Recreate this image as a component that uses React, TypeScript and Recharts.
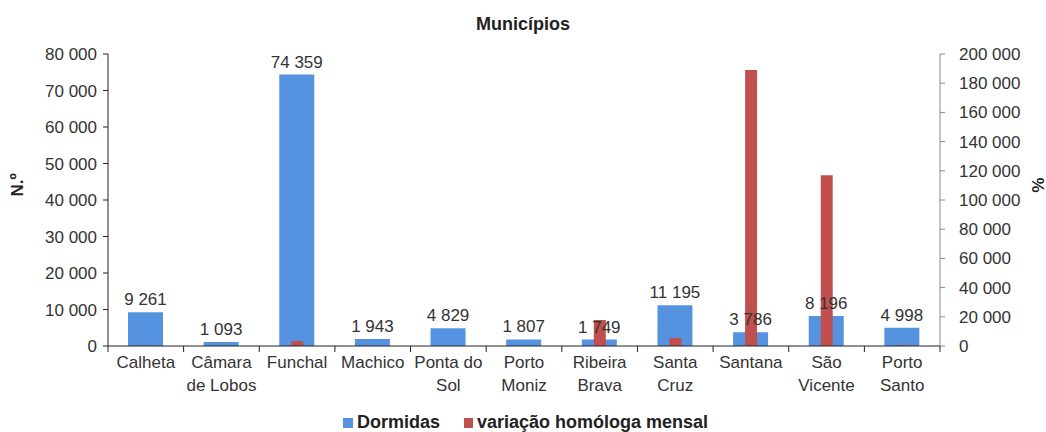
import { Bar, ComposedChart, LabelList, XAxis, YAxis } from "recharts";

const municipios = [
  "Calheta",
  "Câmara\nde Lobos",
  "Funchal",
  "Machico",
  "Ponta do\nSol",
  "Porto\nMoniz",
  "Ribeira\nBrava",
  "Santa\nCruz",
  "Santana",
  "São\nVicente",
  "Porto\nSanto"
];
const dormidas = [9261, 1093, 74359, 1943, 4829, 1807, 1749, 11195, 3786, 8196, 4998];
const variacao = [300, 0, 3400, 0, 0, 0, 17800, 5500, 189000, 117000, 500];
const leftTicks = [0, 10000, 20000, 30000, 40000, 50000, 60000, 70000, 80000];
const rightTicks = [0, 20000, 40000, 60000, 80000, 100000, 120000, 140000, 160000, 180000, 200000];

const blue = "#5592df";
const red = "#c0504d";
const font = "'Liberation Sans', Arial, sans-serif";

const W = 1046;
const H = 432;
const plotLeft = 108;
const plotRight = 940;
const band = (plotRight - plotLeft) / municipios.length;

const data = municipios.map((name, i) => ({ name, dormidas: dormidas[i], variacao: variacao[i] }));

const fmt = (v: number) => String(v).replace(/\B(?=(\d{3})+(?!\d))/g, " ");

function CategoryTick(props: any) {
  const { x, y, payload, index } = props;
  const lines = String(payload.value).split("\n");
  const last = index === municipios.length - 1;
  return (
    <g>
      <line x1={x - band / 2} x2={x - band / 2} y1={y} y2={y + 6} stroke="#222" />
      {last && <line x1={x + band / 2} x2={x + band / 2} y1={y} y2={y + 6} stroke="#222" />}
      <text x={x} y={y + 22} textAnchor="middle" fontSize={17} fill="#333" fontFamily={font}>
        {lines.map((l, i) => (
          <tspan key={i} x={x} dy={i === 0 ? 0 : 23}>
            {l}
          </tspan>
        ))}
      </text>
    </g>
  );
}

function ValueLabel(props: any) {
  const { x, y, width, value } = props;
  return (
    <text x={x + width / 2} y={y - 7} textAnchor="middle" fontSize={17} fill="#333" fontFamily={font}>
      {fmt(Number(value))}
    </text>
  );
}

export default function App() {
  return (
    <div style={{ position: "absolute", left: 0, top: 0, width: W, height: H, background: "#fff", fontFamily: font, overflow: "hidden" }}>
      <div style={{ position: "absolute", left: 0, width: W, top: 14, textAlign: "center", fontWeight: "bold", fontSize: 18, color: "#222" }}>
        Municípios
      </div>
      <div style={{ position: "absolute", left: 18, top: 185, transform: "translate(-50%, -50%) rotate(-90deg)", fontWeight: "bold", fontSize: 17, color: "#222" }}>
        N.º
      </div>
      <div style={{ position: "absolute", left: 1037, top: 185, transform: "translate(-50%, -50%) rotate(90deg)", fontWeight: "bold", fontSize: 17, color: "#222" }}>
        %
      </div>
      <ComposedChart
        width={W}
        height={H}
        data={data}
        margin={{ top: 54, right: 0, left: 0, bottom: 0 }}
        style={{ position: "absolute", left: 0, top: 0 }}
      >
        <XAxis
          xAxisId="a"
          dataKey="name"
          height={86}
          tickLine={false}
          tickSize={0}
          tickMargin={0}
          stroke="#222"
          tick={<CategoryTick />}
          interval={0}
        />
        <XAxis xAxisId="b" dataKey="name" hide />
        <YAxis
          yAxisId="left"
          width={108}
          domain={[0, 80000]}
          ticks={leftTicks}
          tickFormatter={fmt}
          stroke="#222"
          tickSize={5}
          tickMargin={6}
          tick={{ fontSize: 17, fill: "#333", fontFamily: font }}
          interval={0}
        />
        <YAxis
          yAxisId="right"
          orientation="right"
          width={106}
          domain={[0, 200000]}
          ticks={rightTicks}
          tickFormatter={fmt}
          stroke="#8a8a8a"
          tickSize={5}
          tickMargin={14}
          tick={{ fontSize: 17, fill: "#333", fontFamily: font, textAnchor: "start" }}
          interval={0}
        />
        <Bar xAxisId="a" yAxisId="left" dataKey="dormidas" fill={blue} barSize={35} isAnimationActive={false}>
          <LabelList dataKey="dormidas" content={<ValueLabel />} />
        </Bar>
        <Bar xAxisId="b" yAxisId="right" dataKey="variacao" fill={red} barSize={12} isAnimationActive={false} />
      </ComposedChart>
      <div style={{ position: "absolute", top: 412, left: 343, display: "flex", alignItems: "center", fontWeight: "bold", fontSize: 18, color: "#222" }}>
        <span style={{ width: 10, height: 10, background: blue, marginRight: 4, display: "inline-block" }} />
        <span>Dormidas</span>
        <span style={{ width: 9, height: 10, background: red, marginLeft: 24, marginRight: 4, display: "inline-block" }} />
        <span>variação homóloga mensal</span>
      </div>
    </div>
  );
}
